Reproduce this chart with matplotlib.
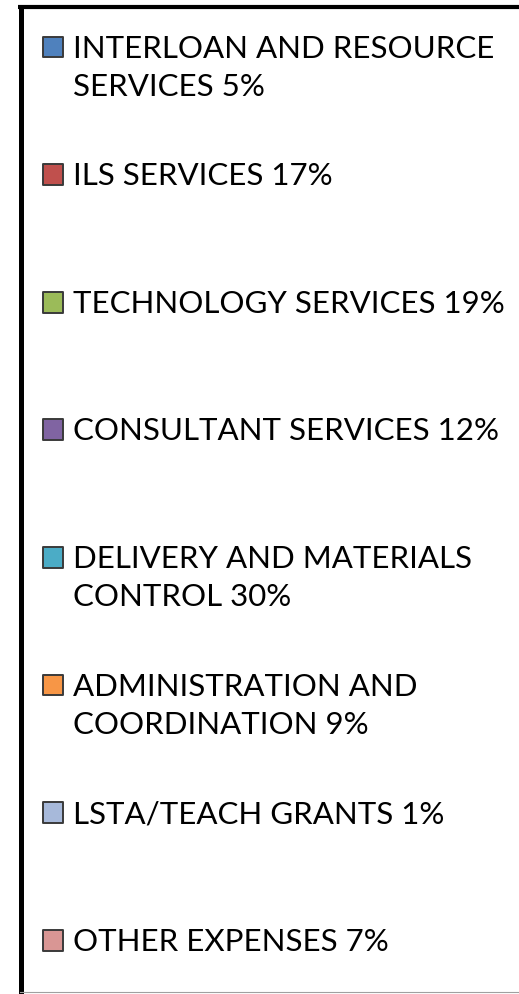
import matplotlib
matplotlib.use('Agg')
import matplotlib.pyplot as plt

# legend of the budget pie chart (pie itself not shown)
labels = ["INTERLOAN AND RESOURCE\nSERVICES 5%",
          "ILS SERVICES 17%",
          "TECHNOLOGY SERVICES 19%",
          "CONSULTANT SERVICES 12%",
          "DELIVERY AND MATERIALS\nCONTROL 30%",
          "ADMINISTRATION AND\nCOORDINATION 9%",
          "LSTA/TEACH GRANTS 1%",
          "OTHER EXPENSES 7%"]
shares = [5, 17, 19, 12, 30, 9, 1, 7]
colors = ['#4F81BD', '#C0504D', '#9BBB59', '#8064A2',
          '#4BACC6', '#F79646', '#A7B9DA', '#D99694']

W, H = 519, 994
fig = plt.figure(figsize=(W / 100, H / 100), dpi=100)
ax = fig.add_axes([0, 0, 1, 1])
ax.set_xlim(0, W)
ax.set_ylim(H, 0)
ax.axis('off')

# frame
ax.plot([20.5, 20.5], [5, H], color='black', lw=3.6, solid_capstyle='butt')
ax.plot([18, W], [6.5, 6.5], color='black', lw=3.0, solid_capstyle='butt')
ax.plot([20, W], [992, 992], color='#a0a0a0', lw=0.8)

y0, step = 46, 127.6
ys = [y0 + step * i for i in range(len(labels))]
ax.scatter([53] * len(labels), [y + 1 for y in ys], marker='s', s=220, c=colors,
           edgecolors='#3a3a3a', linewidths=1.4, zorder=3)
for y, lab in zip(ys, labels):
    for k, line in enumerate(lab.split('\n')):
        ax.text(73, y + 38 * k, line, fontsize=22.5, family='Lato',
                va='center_baseline', ha='left', color='black')

fig.savefig('out.png', dpi=100)
